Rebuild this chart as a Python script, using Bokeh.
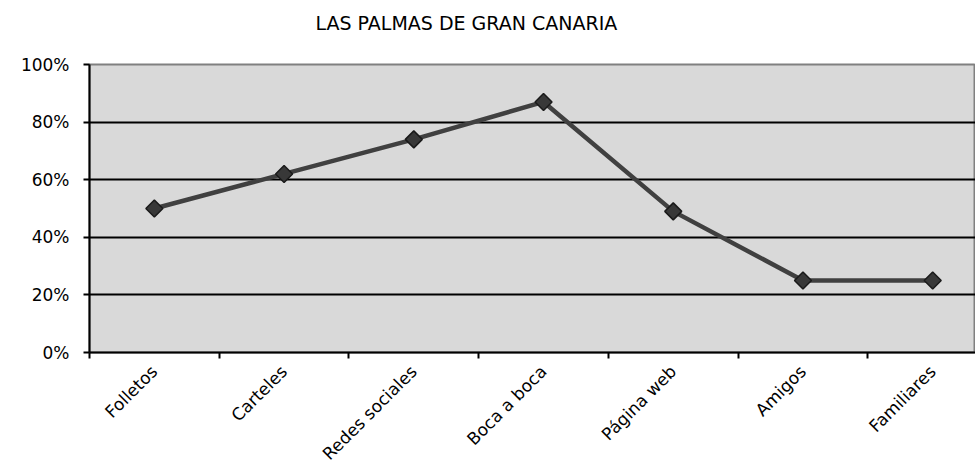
from bokeh.plotting import figure
from bokeh.models import Range1d, FixedTicker, NumeralTickFormatter, Title
from bokeh.embed import file_html
from bokeh.resources import INLINE

categories = ["Folletos", "Carteles", "Redes sociales", "Boca a boca", "Página web", "Amigos", "Familiares"]
values = [0.50, 0.62, 0.74, 0.87, 0.49, 0.25, 0.25]
y_ticks = [0, 0.2, 0.4, 0.6, 0.8, 1.0]
title_text = "LAS PALMAS DE GRAN CANARIA"

FONT = "DejaVu Sans"

xs = [i + 0.5 for i in range(len(categories))]

p = figure(width=975, height=473, output_backend="svg", toolbar_location=None,
           x_range=Range1d(0, 6.83), y_range=Range1d(0, 1.0),
           min_border_left=89, min_border_right=0, min_border_top=64, min_border_bottom=121)

p.title.text = title_text
p.title.align = "left"
p.title.offset = 226
p.title.text_font = FONT
p.title.text_font_size = "19px"
p.title.text_font_style = "normal"
p.title.text_color = "#000000"
p.title.standoff = 19

spacer = Title(text=" ", text_font_size="4px", standoff=14)
p.add_layout(spacer, "above")

p.border_fill_color = "#ffffff"
p.background_fill_color = "#d9d9d9"
p.outline_line_color = "#808080"
p.outline_line_width = 2

# x axis: boundary ticks as minor ticks, labels at centers
p.xaxis.ticker = FixedTicker(ticks=xs, minor_ticks=list(range(len(categories) + 1)))
p.xaxis.major_label_overrides = {x: c for x, c in zip(xs, categories)}
p.xaxis.major_tick_line_color = None
p.xaxis.minor_tick_line_color = "black"
p.xaxis.minor_tick_line_width = 2
p.xaxis.minor_tick_out = 6
p.xaxis.minor_tick_in = 0
p.xaxis.major_label_orientation = 0.785398
p.xaxis.major_label_text_font = FONT
p.xaxis.major_label_text_font_size = "17px"
p.xaxis.major_label_text_color = "#000000"
p.xaxis.major_label_standoff = 10
p.xaxis.axis_line_color = "black"
p.xaxis.axis_line_width = 2

p.yaxis.ticker = FixedTicker(ticks=y_ticks)
p.yaxis.formatter = NumeralTickFormatter(format="0%")
p.yaxis.major_tick_line_color = "black"
p.yaxis.major_tick_line_width = 2
p.yaxis.major_tick_out = 6
p.yaxis.major_tick_in = 0
p.yaxis.minor_tick_line_color = None
p.yaxis.major_label_text_font = FONT
p.yaxis.major_label_text_font_size = "17px"
p.yaxis.major_label_text_color = "#000000"
p.yaxis.major_label_standoff = 14
p.yaxis.axis_line_color = "black"
p.yaxis.axis_line_width = 2

p.xgrid.grid_line_color = None
p.ygrid.ticker = FixedTicker(ticks=y_ticks)
p.ygrid.grid_line_color = "black"
p.ygrid.grid_line_width = 2

p.line(xs, values, line_color="#404040", line_width=4.5)
p.scatter(xs, values, marker="square", angle=0.785398, size=12,
          fill_color="#383838", line_color="#1a1a1a", line_width=1.5)

open("out.html", "w").write(file_html(p, INLINE))
